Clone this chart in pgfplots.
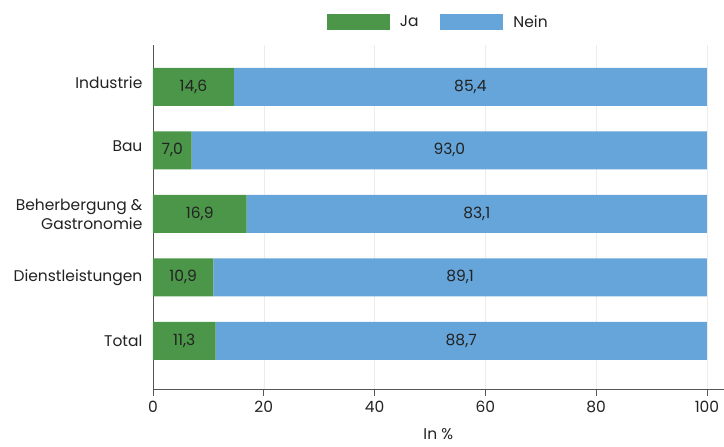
\documentclass[border=0pt]{standalone}
\usepackage{pgfplots}
\pgfplotsset{compat=1.18}
\usepackage{fontspec}
\setmainfont{Poppins}
\definecolor{ja}{HTML}{4B9649}
\definecolor{nein}{HTML}{65A5DA}
\definecolor{axisgray}{HTML}{555555}
\definecolor{txt}{HTML}{222222}
\newcommand{\lbl}{\fontsize{15.5}{19}\selectfont}
\begin{document}
\begin{tikzpicture}
\begin{axis}[
  scale only axis, width=571pt, height=345pt,
  xbar stacked, bar width=38pt,
  xmin=0, xmax=103, ymin=-0.77, ymax=4.66,
  axis x line*=bottom, axis y line*=left,
  axis line style={axisgray, line width=0.8pt},
  xtick={0,20,...,100}, ytick={0,...,4},
  yticklabels={Total, Dienstleistungen, {Beherbergung \&\\Gastronomie}, \raisebox{8pt}{Bau}, \raisebox{8pt}{Industrie}},
  yticklabel style={align=right, text=txt, font=\lbl, xshift=-1pt},
  xticklabel style={text=txt, font=\lbl, yshift=-2pt},
  y tick style={draw=none},
  x tick style={axisgray, line width=0.8pt}, tick align=outside, major tick length=6pt,
  xmajorgrids, grid style={gray!15},
  xlabel={In \%}, xlabel style={text=txt, font=\lbl, yshift=-9pt},
  /pgf/number format/assume math mode=true,
  point meta=x,
  visualization depends on=rawx \as \rawx,
  % stacked bars already centre the labels in each segment here
  nodes near coords={\pgfmathprintnumber[use comma,fixed,fixed zerofill,precision=1]{\rawx}},
  every node near coord/.append style={anchor=center, text=txt, font=\lbl},
  legend style={at={(0.5,1)}, anchor=south, yshift=12pt, draw=none,
    legend columns=-1, font=\lbl, text=txt,
    /tikz/every even column/.append style={column sep=20pt}},
  legend image code/.code={\path[#1, draw=none] (0pt,-8pt) rectangle (63pt,8pt);},
]
\addplot[fill=ja, draw=none] coordinates {
  (11.3,0) (10.9,1) (16.9,2) (7.0,3) (14.6,4)
};
\addplot[fill=nein, draw=none] coordinates {
  (88.7,0) (89.1,1) (83.1,2) (93.0,3) (85.4,4)
};
\legend{\hspace{8pt}Ja, \hspace{8pt}Nein}
\end{axis}
\path (current axis.north west) ++(-153pt,45pt);
\path (current axis.south west) ++(0,-57pt);
\end{tikzpicture}
\end{document}
